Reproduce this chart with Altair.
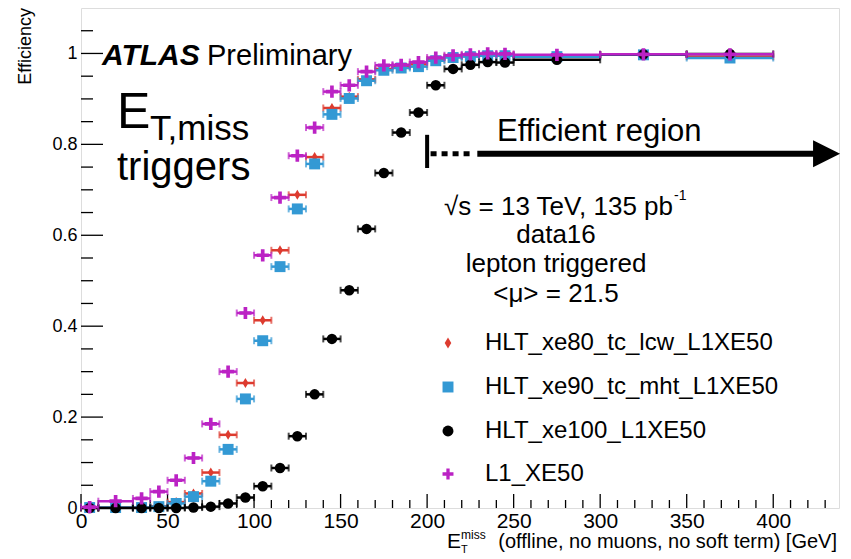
import altair as alt
import pandas as pd

FONT = "Liberation Sans"

# ---------------- data ----------------
bin_center = [5, 20, 35, 45, 55, 65, 75, 85, 95, 105, 115, 125, 135, 145, 155,
              165, 175, 185, 195, 205, 215, 225, 235, 245, 275, 325, 375]
bin_low = [0, 10, 30, 40, 50, 60, 70, 80, 90, 100, 110, 120, 130, 140, 150,
           160, 170, 180, 190, 200, 210, 220, 230, 240, 250, 300, 350]
bin_high = [10, 30, 40, 50, 60, 70, 80, 90, 100, 110, 120, 130, 140, 150, 160,
            170, 180, 190, 200, 210, 220, 230, 240, 250, 300, 350, 400]

series_names = ["HLT_xe80_tc_lcw_L1XE50", "HLT_xe90_tc_mht_L1XE50",
                "HLT_xe100_L1XE50", "L1_XE50"]

eff_xe80_lcw = [0.000, 0.001, 0.001, 0.004, 0.013, 0.032, 0.078, 0.161, 0.275,
                0.413, 0.567, 0.689, 0.772, 0.880, 0.905, 0.943, 0.966, 0.971,
                0.976, 0.987, 0.993, 0.995, 0.997, 0.997, 0.996, 0.998, 0.993]
eff_xe90_mht = [0.001, 0.001, 0.001, 0.003, 0.010, 0.025, 0.059, 0.129, 0.240,
                0.368, 0.531, 0.658, 0.757, 0.866, 0.901, 0.940, 0.963, 0.968,
                0.971, 0.984, 0.991, 0.993, 0.995, 0.995, 0.993, 0.997, 0.990]
eff_xe100 = [0.000, 0.000, 0.000, 0.000, 0.000, 0.001, 0.003, 0.010, 0.023,
             0.048, 0.088, 0.158, 0.250, 0.372, 0.479, 0.614, 0.737, 0.826,
             0.870, 0.930, 0.966, 0.975, 0.981, 0.980, 0.986, 0.998, 0.999]
eff_l1_xe50 = [0.002, 0.015, 0.021, 0.036, 0.061, 0.110, 0.185, 0.300, 0.429,
               0.556, 0.683, 0.775, 0.837, 0.916, 0.930, 0.960, 0.974, 0.975,
               0.981, 0.991, 0.996, 0.998, 1.000, 0.999, 0.997, 0.998, 0.998]

series_eff = [eff_xe80_lcw, eff_xe90_mht, eff_xe100, eff_l1_xe50]
series_colors = ["#dd3b2f", "#3399d4", "#000000", "#bb22c4"]
DIAMOND = "M0,-1L0.6,0L0,1L-0.6,0Z"
PLUS = "M-1,-0.3H-0.3V-1H0.3V-0.3H1V0.3H0.3V1H-0.3V0.3H-1Z"
series_shapes = [DIAMOND, "square", "circle", PLUS]
series_sizes = [100, 120, 110, 150]

x_major = [0, 50, 100, 150, 200, 250, 300, 350, 400]
x_minor = [v for v in range(0, 440, 10) if v % 50 != 0]
y_major = [0, 0.2, 0.4, 0.6, 0.8, 1.0]
y_minor = [0.05, 0.1, 0.15, 0.25, 0.3, 0.35, 0.45, 0.5, 0.55, 0.65, 0.7, 0.75,
           0.85, 0.9, 0.95, 1.05]

W, H = 758, 500

xscale = alt.Scale(domain=[0, 438], nice=False, zero=False)
yscale = alt.Scale(domain=[0, 1.1], nice=False, zero=False)
xaxis = alt.Axis(values=x_major, ticks=False, domain=False, grid=False,
                 labelFontSize=21, labelPadding=2, labelFont=FONT,
                 labelColor="black", title=None, labelFlush=False)
yaxis = alt.Axis(values=y_major, ticks=False, domain=False, grid=False,
                 labelFontSize=18, labelPadding=4, labelFont=FONT,
                 labelColor="black", title=None,
                 labelExpr="datum.value == 0 ? '0' : datum.value == 1 ? '1' : format(datum.value, '.1f')")


def X(field, **kw):
    return alt.X(field, scale=xscale, axis=xaxis, title=None, **kw)


def Y(field, **kw):
    return alt.Y(field, scale=yscale, axis=yaxis, title=None, **kw)


one = pd.DataFrame({"a": [0]})


def label(txt, px, py, size, align="left", baseline="alphabetic",
          weight="normal", style="normal", angle=0):
    return alt.Chart(one).mark_text(
        text=txt, fontSize=size, align=align, baseline=baseline,
        fontWeight=weight, fontStyle=style, font=FONT, color="black",
        angle=angle,
    ).encode(x=alt.value(px), y=alt.value(py))


layers = []

# inward ticks
layers.append(alt.Chart(pd.DataFrame({"v": x_major})).mark_rule(color="black", strokeWidth=1.3)
              .encode(x=X("v:Q"), y=alt.value(H), y2=alt.value(H - 14)))
layers.append(alt.Chart(pd.DataFrame({"v": x_minor})).mark_rule(color="black", strokeWidth=1.3)
              .encode(x=X("v:Q"), y=alt.value(H), y2=alt.value(H - 8)))
layers.append(alt.Chart(pd.DataFrame({"v": y_major})).mark_rule(color="black", strokeWidth=1.3)
              .encode(y=Y("v:Q"), x=alt.value(0), x2=alt.value(22)))
layers.append(alt.Chart(pd.DataFrame({"v": y_minor})).mark_rule(color="black", strokeWidth=1.3)
              .encode(y=Y("v:Q"), x=alt.value(0), x2=alt.value(12)))

# data series
for name, eff, col, shp, sz in zip(series_names, series_eff, series_colors,
                                   series_shapes, series_sizes):
    df = pd.DataFrame({"x": bin_center, "lo": bin_low, "hi": bin_high, "eff": eff})
    caps = pd.DataFrame({"x": bin_low + bin_high, "eff": eff + eff})
    layers.append(alt.Chart(df).mark_rule(color=col, strokeWidth=2.5)
                  .encode(x=X("lo:Q"), x2="hi:Q", y=Y("eff:Q")))
    layers.append(alt.Chart(caps).mark_tick(color=col, orient="vertical", size=7, thickness=2)
                  .encode(x=X("x:Q"), y=Y("eff:Q")))
    layers.append(alt.Chart(df).mark_point(shape=shp, filled=True, opacity=1,
                                           color=col, size=sz, strokeWidth=0)
                  .encode(x=X("x:Q"), y=Y("eff:Q")))

# efficient-region arrow (data coordinates)
arrow_y = 0.7795
layers.append(alt.Chart(pd.DataFrame({"x": [200], "y": [0.748], "y2": [0.821]}))
              .mark_rule(color="black", strokeWidth=4)
              .encode(x=X("x:Q"), y=Y("y:Q"), y2="y2:Q"))
layers.append(alt.Chart(pd.DataFrame({"x": [202], "x2": [227], "y": [arrow_y]}))
              .mark_rule(color="black", strokeWidth=5, strokeDash=[6, 5])
              .encode(x=X("x:Q"), x2="x2:Q", y=Y("y:Q")))
layers.append(alt.Chart(pd.DataFrame({"x": [229], "x2": [428], "y": [arrow_y]}))
              .mark_rule(color="black", strokeWidth=6)
              .encode(x=X("x:Q"), x2="x2:Q", y=Y("y:Q")))
layers.append(alt.Chart(pd.DataFrame({"x": [430.8], "y": [arrow_y]}))
              .mark_point(shape="M-1,-1L1,0L-1,1Z", filled=True, opacity=1,
                          color="black", size=729, strokeWidth=0)
              .encode(x=X("x:Q"), y=Y("y:Q")))

# texts
layers += [
    label("ATLAS", 21, 57, 30, weight="bold", style="italic"),
    label("Preliminary", 126, 57, 29),
    label("E", 36, 120, 50),
    label("T,miss", 69, 132, 35),
    label("triggers", 36, 172, 40),
    label("Efficient region", 416, 133, 31),
    label("√s = 13 TeV, 135 pb", 592, 207, 26, align="right"),
    label("-1", 593, 192, 14),
    label("data16", 475, 235, 26, align="center"),
    label("lepton triggered", 475, 264, 26, align="center"),
    label("<μ> = 21.5", 475, 294, 26, align="center"),
    label("Efficiency", -55, 0, 18, align="right", baseline="middle", angle=270),
    label("E", 366, 540, 21),
    label("miss", 380, 531, 12),
    label("T", 380, 545, 11),
    label("(offline, no muons, no soft term) [GeV]", 756, 540, 20, align="right"),
]

# legend
legend_y = [335, 379, 423, 466]
for name, col, shp, ly in zip(series_names, series_colors, series_shapes, legend_y):
    layers.append(alt.Chart(one).mark_point(shape=shp, filled=True, opacity=1,
                                            color=col, size=120, strokeWidth=0)
                  .encode(x=alt.value(367), y=alt.value(ly)))
    layers.append(label(name, 404, ly, 24, baseline="middle"))

chart = alt.layer(*layers).properties(
    width=W, height=H,
    autosize=alt.AutoSizeParams(type="none"),
    padding={"left": 73, "top": 0, "right": 4, "bottom": 50},
).configure_view(stroke="#333333", strokeWidth=1.5).configure(background="white")

chart.save("out.html", embed_options={"renderer": "svg", "actions": False})
